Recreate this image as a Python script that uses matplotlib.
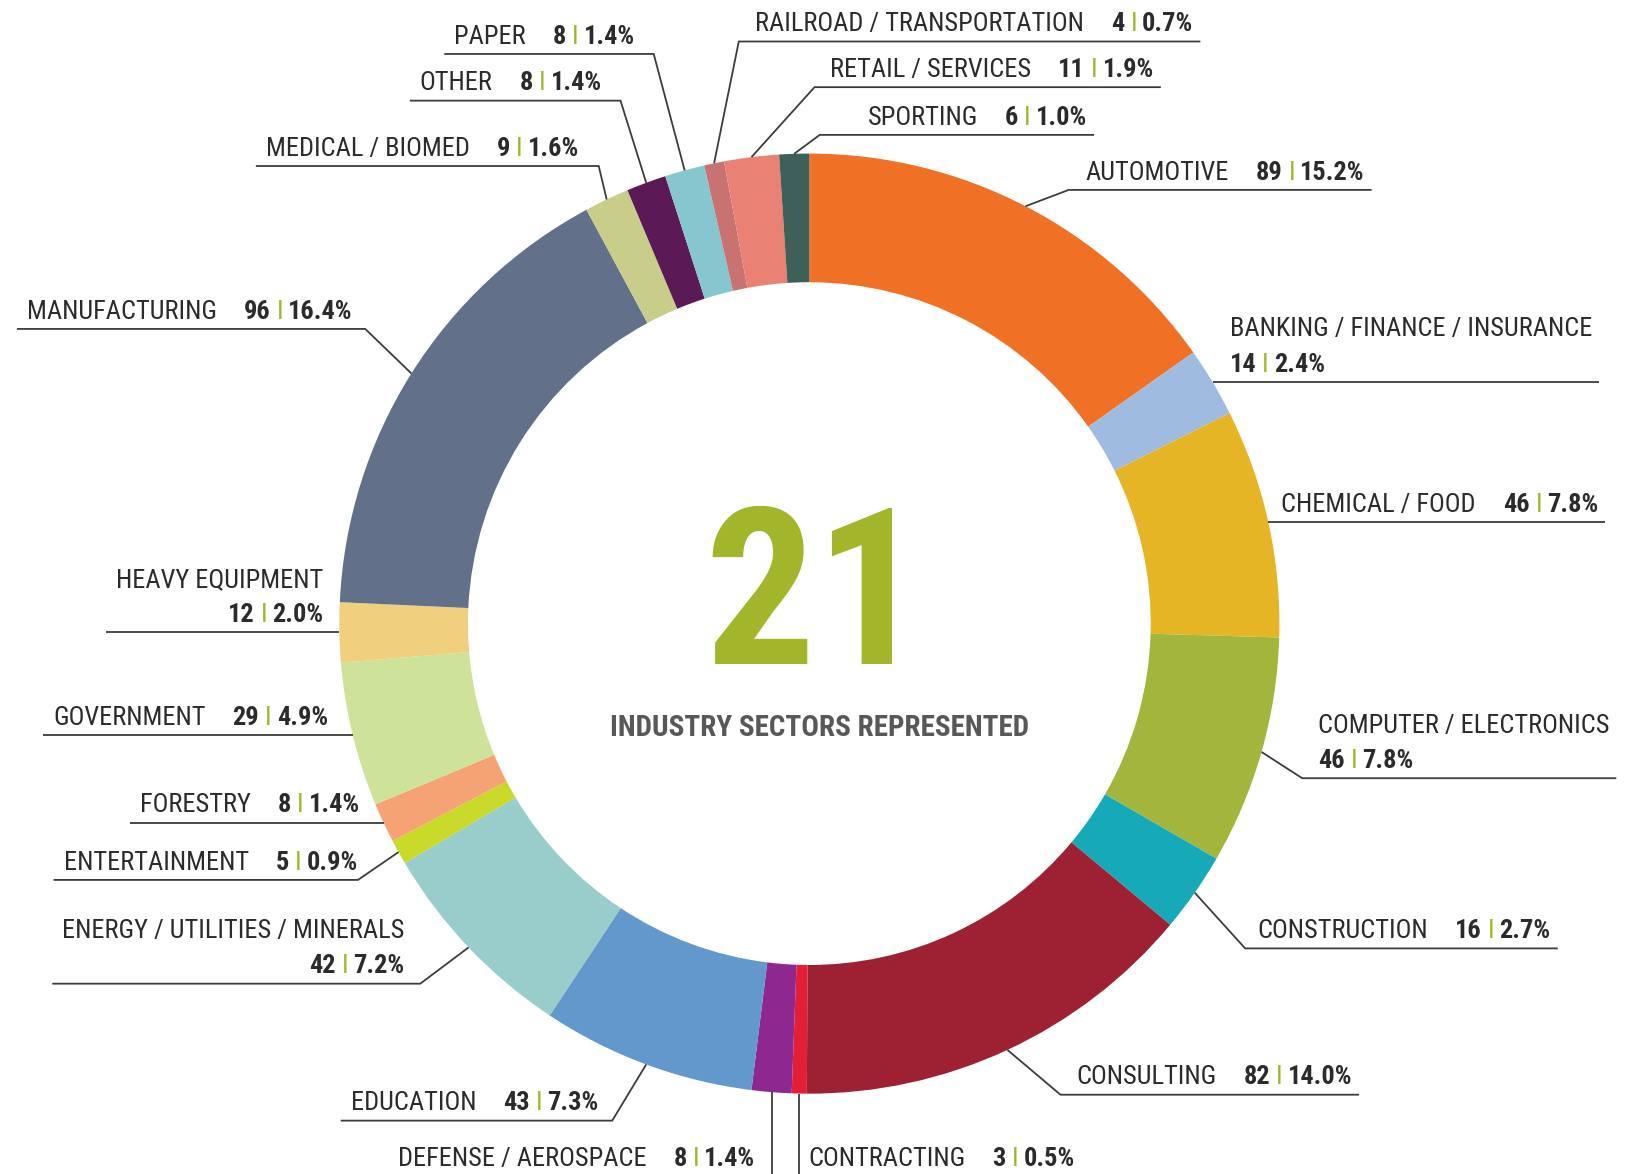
import matplotlib
matplotlib.use("Agg")
import matplotlib.pyplot as plt
from matplotlib import font_manager
import numpy as np

# ---------------- data ----------------
sectors = ["AUTOMOTIVE", "BANKING / FINANCE / INSURANCE", "CHEMICAL / FOOD",
           "COMPUTER / ELECTRONICS", "CONSTRUCTION", "CONSULTING", "CONTRACTING",
           "DEFENSE / AEROSPACE", "EDUCATION", "ENERGY / UTILITIES / MINERALS",
           "ENTERTAINMENT", "FORESTRY", "GOVERNMENT", "HEAVY EQUIPMENT",
           "MANUFACTURING", "MEDICAL / BIOMED", "OTHER", "PAPER",
           "RAILROAD / TRANSPORTATION", "RETAIL / SERVICES", "SPORTING"]
counts = [89, 14, 46, 46, 16, 82, 3, 8, 43, 42, 5, 8, 29, 12, 96, 9, 8, 8, 4, 11, 6]
percents = ["15.2%", "2.4%", "7.8%", "7.8%", "2.7%", "14.0%", "0.5%", "1.4%", "7.3%",
            "7.2%", "0.9%", "1.4%", "4.9%", "2.0%", "16.4%", "1.6%", "1.4%", "1.4%",
            "0.7%", "1.9%", "1.0%"]
center_caption = "INDUSTRY SECTORS REPRESENTED"

# ---------------- style ----------------
colors = ["#F07026", "#A0BBE0", "#E5B526", "#A3B53A", "#16AAB9", "#9D2132", "#E21F36",
          "#8F2790", "#6398CC", "#99CDCC", "#C9DA2A", "#F5A274", "#CFE29A", "#F0D07E",
          "#63708A", "#C8CD8A", "#5B1A56", "#86C6CF", "#C87272", "#E98275", "#3F6058"]
GREEN = "#A3B52A"
TEXT_C = "#2b2b2b"
LINE_C = "#3c3c3c"

W, H = 1627, 1174
S = 1627 / 1568.0  # layout numbers below are measured on a 1568-wide view

names = {f.name for f in font_manager.fontManager.ttflist}
FAM = "Liberation Sans"
FS = 16
BIG_FS = 150
CAP_FS = 17
for cand, fs, bfs, cfs in [("Roboto Condensed", 19, 158, 21),
                           ("Liberation Sans Narrow", 19, 157, 20.5)]:
    if cand in names:
        FAM, FS, BIG_FS, CAP_FS = cand, fs, bfs, cfs
        break
FAMS = [FAM, "DejaVu Sans"]

# layout: kind, underline y, elbow x, text x   (None => attach at wedge anchor)
layout = [
    ("R", 183, 1030, 1046),
    ("R2", None, None, 1185),
    ("R", None, None, 1235),
    ("R2", 750, 1255, 1270),
    ("R", 914, 1200, 1212),
    ("R", 1055, 1022, 1037),
    ("VR", None, None, 779),
    ("VL", None, None, 728),
    ("L", 1080, 590, 577),
    ("L2", 948, 405, 390),
    ("L", 848, 345, 345),
    ("L", None, None, 347),
    ("L", None, None, 316),
    ("L2", None, None, 312),
    ("L", 317, 352, 340),
    ("L", 160, 577, 558),
    ("L", 97, 598, 580),
    ("L", 52, 630, 612),
    ("R", 40, 712, 728),
    ("R", 84, 785, 800),
    ("R", 130, 790, 836),
]

fig = plt.figure(figsize=(W / 100, H / 100), dpi=100)
ax = fig.add_axes([0, 0, 1, 1])

cx, cy = 780 * S, H - 601 * S
R_out = 453 * S
R_in = 329 * S

ax.pie(counts, colors=colors, startangle=90, counterclock=False, radius=R_out,
       center=(cx, cy), wedgeprops=dict(width=R_out - R_in, edgecolor="none", linewidth=0))
ax.set_xlim(0, W)
ax.set_ylim(0, H)
ax.set_aspect("equal")
ax.axis("off")

renderer = fig.canvas.get_renderer()


def fx(x):
    return x * S


def fy(y):
    return H - y * S


def rich(x, y, segs, ha):
    """segs: list of (text, weight, color, gap_before). Returns (x0, x1)."""
    objs, widths, gaps = [], [], []
    for s, w, c, g in segs:
        t = ax.text(0, y, s, fontsize=FS, fontweight=w, color=c, family=FAMS,
                    va="baseline", ha="left")
        widths.append(t.get_window_extent(renderer).width)
        objs.append(t)
        gaps.append(g)
    total = sum(widths) + sum(gaps)
    start = x if ha == "left" else x - total
    pos = start
    for t, w, g in zip(objs, widths, gaps):
        pos += g
        t.set_x(pos)
        pos += w
    return start, start + total


def num_segs(i, first_gap):
    return [(str(counts[i]), "bold", TEXT_C, first_gap),
            ("I", "normal", GREEN, 6),
            (percents[i], "bold", TEXT_C, 5)]


total = float(sum(counts))
cum = np.cumsum([0] + counts)
BASE_OFF = 10
LINE_GAP = 34
NAME_GAP = 27

for i, (kind, ly, ex, tx) in enumerate(layout):
    mid = (cum[i] + counts[i] / 2.0) / total
    ang = np.deg2rad(90 - 360 * mid)
    axp, ayp = cx + R_out * np.cos(ang), cy + R_out * np.sin(ang)

    if kind in ("VR", "VL"):
        ax.plot([axp, axp], [ayp, 0], color=LINE_C, lw=1.3, solid_capstyle="butt")
        yb = fy(1124)
        segs = [(sectors[i], "normal", TEXT_C, 0)] + num_segs(i, NAME_GAP)
        rich(fx(tx), yb, segs, "left" if kind == "VR" else "right")
        continue

    if ly is None:
        line_y = ayp
        elbow_x = axp
    else:
        line_y = fy(ly)
        elbow_x = fx(ex)
    yb = line_y + BASE_OFF * S
    side = "left" if kind.startswith("R") else "right"

    if kind in ("R", "L"):
        segs = [(sectors[i], "normal", TEXT_C, 0)] + num_segs(i, NAME_GAP)
        x0, x1 = rich(fx(tx), yb, segs, side)
    else:
        a0, a1 = rich(fx(tx), yb + LINE_GAP * S, [(sectors[i], "normal", TEXT_C, 0)], side)
        b0, b1 = rich(fx(tx), yb, num_segs(i, 0), side)
        x0, x1 = min(a0, b0), max(a1, b1)

    if side == "left":
        far = x1 + 7
    else:
        far = x0 - 10
    ax.plot([axp, elbow_x, far], [ayp, line_y, line_y], color=LINE_C, lw=1.3,
            solid_capstyle="butt", solid_joinstyle="miter")

# center text
ax.text(815, H - 664, str(len(sectors)), fontsize=BIG_FS, fontweight="bold", color=GREEN,
        family=FAMS, ha="center", va="baseline")
ax.text(820, H - 736, center_caption, fontsize=CAP_FS, fontweight="bold", color="#58585A",
        family=FAMS, ha="center", va="baseline")

fig.savefig("out.png", dpi=100, facecolor="white")
